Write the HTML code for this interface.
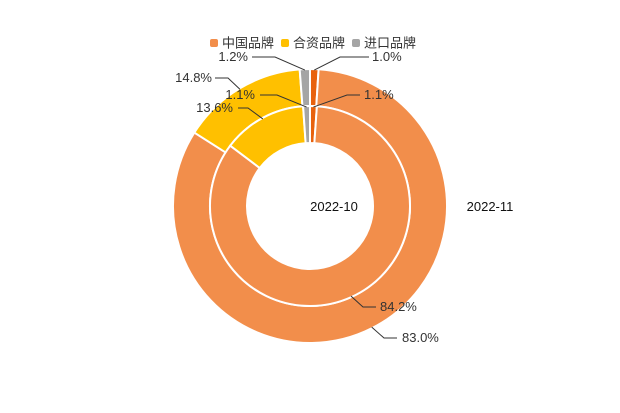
<!DOCTYPE html>
<html><head><meta charset="utf-8"><style>
html,body{margin:0;padding:0;background:#fff;}
svg{display:block;font-family:"Liberation Sans","Noto Sans CJK SC",sans-serif;}
</style></head><body>
<svg id="chart" width="620" height="413" viewBox="0 0 620 413">
  <g id="legend">
    <g><rect x="210" y="39" width="8" height="8" rx="2" fill="#F28E4B"/><text x="222" y="47.5" font-size="13" fill="#333">中国品牌</text></g>
    <g><rect x="281" y="39" width="8" height="8" rx="2" fill="#FFC000"/><text x="293" y="47.5" font-size="13" fill="#333">合资品牌</text></g>
    <g><rect x="352" y="39" width="8" height="8" rx="2" fill="#A5A5A5"/><text x="364" y="47.5" font-size="13" fill="#333">进口品牌</text></g>
  </g>
  <g id="rings"></g>
  <g id="labels"></g>
  <text x="334" y="211" text-anchor="middle" font-size="13" fill="#111">2022-10</text>
  <text x="490" y="211" text-anchor="middle" font-size="13" fill="#111">2022-11</text>
</svg>
<script>
const categories = ["其他", "中国品牌", "合资品牌", "进口品牌"];
const colors = ["#E8620E", "#F28E4B", "#FFC000", "#A5A5A5"];
const outerValues = [1.0, 83.0, 14.8, 1.2];
const innerValues = [1.1, 84.2, 13.6, 1.1];
const cx = 310, cy = 206;
const NS = "http://www.w3.org/2000/svg";
// label layout: [textX, textY, anchor, elbowX, elbowY, endX]
const outerLayout = [[372,61,"start",340,57,369],[402,342,"start",384,338,397],[212,82,"end",228,78,215],[248,61,"end",275,57,252]];
const innerLayout = [[364,99,"start",347,95,360],[380,311,"start",363,307,376],[233,112,"end",248,108,238],[255,99,"end",277,95,260]];
function pt(r,a){return [cx+r*Math.sin(a), cy-r*Math.cos(a)];}
function drawRing(vals,r0,r1,layout,name){
  const total = vals.reduce((s,v)=>s+v,0);
  let a = 0;
  vals.forEach((v,i)=>{
    const a1 = a + v/total*2*Math.PI;
    const large = (a1-a)>Math.PI?1:0;
    const [x0,y0]=pt(r1,a),[x1,y1]=pt(r1,a1),[x2,y2]=pt(r0,a1),[x3,y3]=pt(r0,a);
    const p = document.createElementNS(NS,"path");
    p.setAttribute("d",`M${x0},${y0}A${r1},${r1} 0 ${large} 1 ${x1},${y1}L${x2},${y2}A${r0},${r0} 0 ${large} 0 ${x3},${y3}Z`);
    p.setAttribute("fill",colors[i]);
    p.setAttribute("stroke","#fff");
    p.setAttribute("stroke-width","2");
    
    
    document.getElementById("rings").appendChild(p);
    const mid=(a+a1)/2, [sx,sy]=pt(r1-1,mid), L=layout[i];
    const pl=document.createElementNS(NS,"polyline");
    pl.setAttribute("points",`${sx},${sy} ${L[3]},${L[4]} ${L[5]},${L[4]}`);
    pl.setAttribute("fill","none");pl.setAttribute("stroke","#333");pl.setAttribute("stroke-width","1");
    
    
    document.getElementById("labels").appendChild(pl);
    const t=document.createElementNS(NS,"text");
    t.setAttribute("x",L[0]);t.setAttribute("y",L[1]);t.setAttribute("text-anchor",L[2]);
    t.setAttribute("font-size","13");t.setAttribute("fill","#333");
    t.textContent=v.toFixed(1)+"%";
    
    
    document.getElementById("labels").appendChild(t);
    a=a1;
  });
}
drawRing(outerValues,100,137,outerLayout,"outer");
drawRing(innerValues,63,100,innerLayout,"inner");
</script>
</body></html>
